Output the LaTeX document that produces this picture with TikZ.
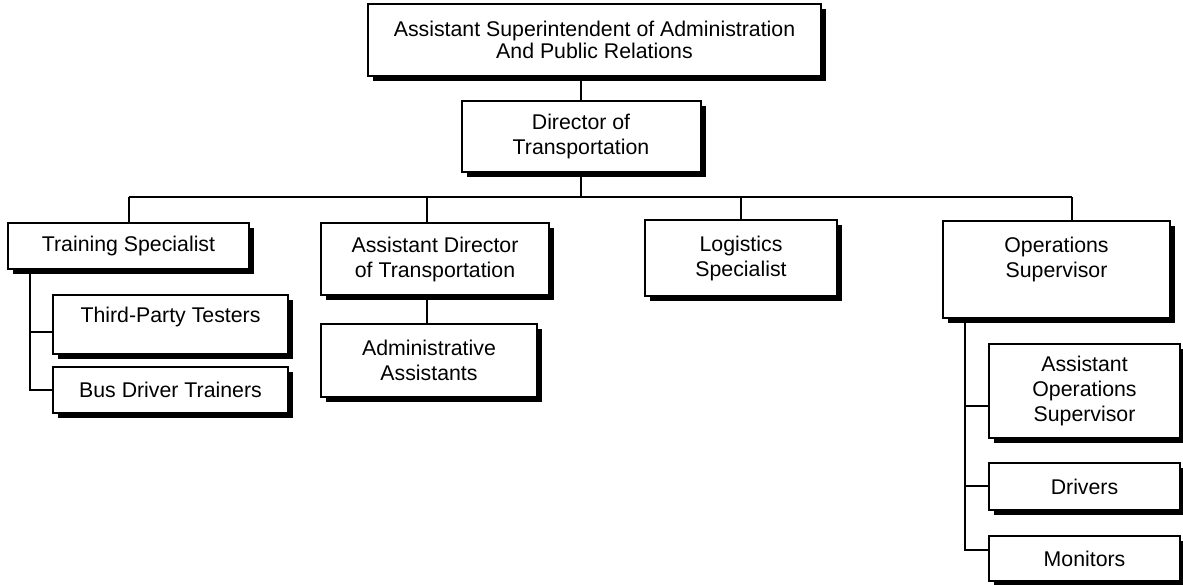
\documentclass[tikz,border=0pt]{standalone}
\usepackage{fontspec}
\setmainfont{Liberation Sans}
\usetikzlibrary{shadows}
\begin{document}
\begin{tikzpicture}[x=1pt,y=-1pt,
  box/.style={draw, line width=2pt, fill=white, align=center, inner sep=2pt,
    font=\fontsize{21.3}{25}\selectfont,
    general shadow={fill=black, shadow xshift=5pt, shadow yshift=-5pt}},
  conn/.style={line width=2pt}]
\useasboundingbox (0,0) rectangle (1183,584);

\node[box, minimum width=453pt, minimum height=72pt, font=\fontsize{21.3}{21.5}\selectfont] (top) at (594.5,40)
  {Assistant Superintendent of Administration\\And Public Relations};
\node[box, minimum width=239pt, minimum height=71pt, yshift=-2pt] (dir) at (581,134.5) {Director of\\Transportation};
\node[box, minimum width=241pt, minimum height=46pt] (train) at (128.5,246) {Training Specialist};
\node[box, minimum width=235pt, minimum height=59pt, text depth=20pt] (third) at (170.5,324.5) {Third-Party Testers};
\node[box, minimum width=235pt, minimum height=46pt] (busdrv) at (170.5,390) {Bus Driver Trainers};
\node[box, minimum width=228pt, minimum height=72pt] (asstdir) at (435,259) {Assistant Director\\of Transportation};
\node[box, minimum width=216pt, minimum height=73pt] (admin) at (429,360.5) {Administrative\\Assistants};
\node[box, minimum width=192pt, minimum height=76pt] (logi) at (741,258) {Logistics\\Specialist};
\node[box, minimum width=227pt, minimum height=97pt] (ops) at (1056.5,269.5) {Operations\\Supervisor\\~};
\node[box, minimum width=191pt, minimum height=94pt] (asstops) at (1084.5,391) {Assistant\\Operations\\Supervisor};
\node[box, minimum width=191pt, minimum height=47pt] (drivers) at (1084.5,486.5) {Drivers};
\node[box, minimum width=191pt, minimum height=45pt] (monitors) at (1084.5,558.5) {Monitors};

\coordinate (bus) at (581,197);
\coordinate (adx) at (427,0);
\coordinate (opsx) at (1072,0);
\coordinate (tc1) at (30,332);
\coordinate (tc2) at (30,390);
\coordinate (oc1) at (965,406);
\coordinate (oc2) at (965,486);
\coordinate (oc3) at (965,550);

\draw[conn] (top.south -| dir.north) -- (dir.north);
\draw[conn] (dir.south) -- (dir.south |- bus);
\draw[conn] (bus -| train.north) -- (bus -| opsx);
\draw[conn] (bus -| train.north) -- (train.north);
\draw[conn] (bus -| adx) -- (asstdir.north -| adx);
\draw[conn] (bus -| logi.north) -- (logi.north);
\draw[conn] (bus -| opsx) -- (ops.north -| opsx);
\draw[conn] (asstdir.south -| adx) -- (admin.north -| adx);

\draw[conn] (train.south -| tc1) -- (tc2) -- (tc2 -| busdrv.west);
\draw[conn] (tc1) -- (tc1 -| third.west);

\draw[conn] (ops.south -| oc1) -- (oc3) -- (oc3 -| monitors.west);
\draw[conn] (oc1) -- (oc1 -| asstops.west);
\draw[conn] (oc2) -- (oc2 -| drivers.west);
\end{tikzpicture}
\end{document}
